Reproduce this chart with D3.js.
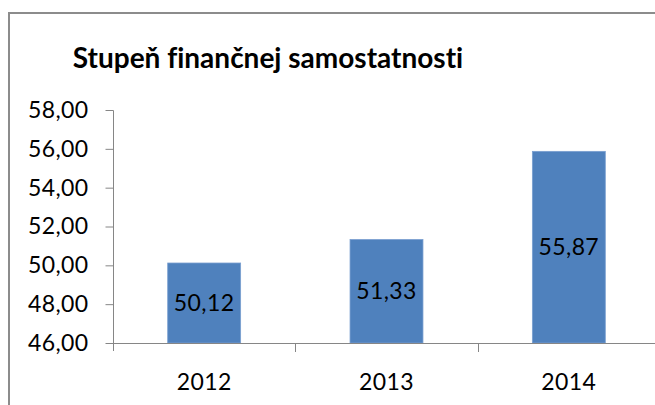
<!DOCTYPE html>
<html lang="sk">
<head>
  <meta charset="UTF-8">
  <title>Stupeň finančnej samostatnosti</title>
  <style>
    html, body { margin: 0; padding: 0; background: #fff; }
    svg { display: block; }
    text { font-family: Lato, 'Open Sans', sans-serif; fill: #000; font-variant-ligatures: none; }
  </style>
</head>
<body>
  <svg id="chart" width="655" height="405"></svg>
  <script src="https://cdnjs.cloudflare.com/ajax/libs/d3/7.8.5/d3.min.js"></script>
  <script>
    // data
    const years = ["2012", "2013", "2014"];
    const values = [50.12, 51.33, 55.87];
    const yTicks = [46, 48, 50, 52, 54, 56, 58];
    const title = "Stupeň finančnej samostatnosti";

    const svg = d3.select('#chart');
    const fmt = v => d3.format('.2f')(v).replace('.', ',');

    // chart frame (only top and left edges are inside the picture)
    svg.append('path')
      .attr('d', 'M9,405 V13 H655')
      .attr('fill', 'none')
      .attr('stroke', '#8c8c8c')
      .attr('stroke-width', 2);

    svg.append('text')
      .attr('x', 268)
      .attr('y', 68)
      .attr('text-anchor', 'middle')
      .attr('font-size', 28)
      .attr('font-weight', 'bold')
      .text(title);

    const x = d3.scaleBand()
      .domain(years)
      .range([113, 660])
      .paddingInner(0.6)
      .paddingOuter(0.3);

    const y = d3.scaleLinear()
      .domain([46, 58])
      .range([343, 110]);

    // bars
    svg.selectAll('.bar')
      .data(values)
      .enter().append('rect')
      .attr('class', 'bar')
      .attr('x', (d, i) => x(years[i]))
      .attr('width', x.bandwidth())
      .attr('y', d => y(d))
      .attr('height', d => y(46) - y(d))
      .attr('fill', '#4f81bd')
      .attr('stroke', '#7a9fd0')
      .attr('stroke-width', 0.8);

    const styleText = sel => sel
      .attr('font-size', 23)
      .attr('font-family', 'Lato, sans-serif')
      .attr('letter-spacing', 0.4)
      .attr('fill', '#000');

    // y axis
    const yAxis = svg.append('g')
      .attr('transform', 'translate(113.5,0)')
      .call(d3.axisLeft(y).tickValues(yTicks).tickFormat(fmt).tickSize(8).tickPadding(17));
    yAxis.select('.domain').attr('stroke', '#868686').attr('d', 'M0,110.5 V351');
    yAxis.selectAll('.tick line').attr('stroke', '#868686');
    yAxis.selectAll('.tick text').call(styleText);

    // x axis
    const xAxis = svg.append('g')
      .attr('transform', 'translate(0,343.5)')
      .call(d3.axisBottom(x).tickSize(0).tickPadding(30));
    xAxis.select('.domain').attr('stroke', '#868686').attr('d', 'M113,0 H660');
    xAxis.selectAll('.tick text').call(styleText);

    // category separators
    svg.selectAll('.sep')
      .data(years.slice(1))
      .enter().append('line')
      .attr('class', 'sep')
      .attr('x1', d => Math.round(x(d) - x.step() * x.paddingInner() / 2) + 0.5)
      .attr('x2', d => Math.round(x(d) - x.step() * x.paddingInner() / 2) + 0.5)
      .attr('y1', 343)
      .attr('y2', 352)
      .attr('stroke', '#868686');

    // value labels centred in bars
    svg.selectAll('.lbl')
      .data(values)
      .enter().append('text')
      .attr('class', 'lbl')
      .attr('x', (d, i) => x(years[i]) + x.bandwidth() / 2)
      .attr('y', d => (y(d) + y(46)) / 2)
      .attr('dy', '0.35em')
      .attr('text-anchor', 'middle')
      .call(styleText)
      .text(fmt);
  </script>
</body>
</html>
